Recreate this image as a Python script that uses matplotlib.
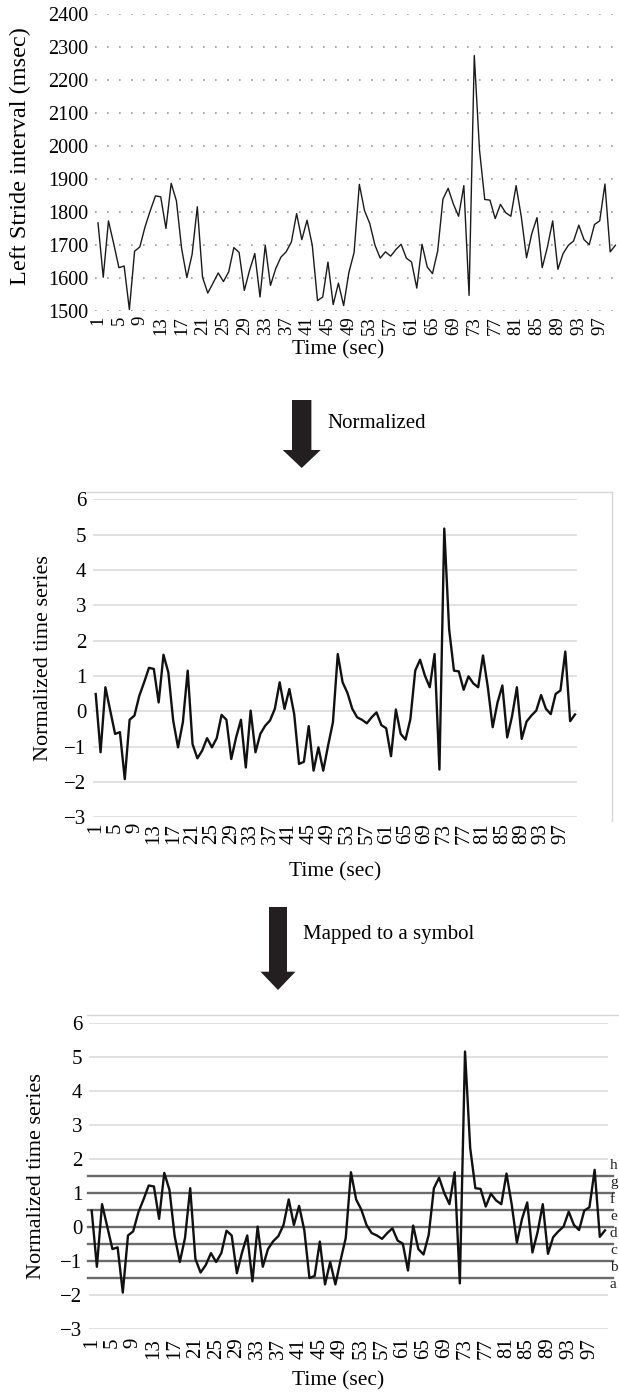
import numpy as np
import matplotlib
matplotlib.use('Agg')
import matplotlib.pyplot as plt
from matplotlib.patches import Polygon

plt.rcParams['font.family'] = ['Liberation Serif', 'DejaVu Serif']

# Left stride interval (msec), one value per second
time_sec = np.arange(1, 101)
stride_ms = [1766, 1601, 1772, 1703, 1630, 1635, 1503, 1680, 1693, 1754,
             1803, 1848, 1845, 1749, 1886, 1833, 1688, 1600, 1670, 1815,
             1601, 1553, 1583, 1614, 1588, 1617, 1691, 1676, 1561, 1622,
             1673, 1541, 1698, 1576, 1627, 1662, 1678, 1708, 1794, 1715,
             1774, 1698, 1530, 1541, 1647, 1518, 1583, 1515, 1615, 1676,
             1883, 1803, 1764, 1698, 1659, 1678, 1665, 1685, 1701, 1659,
             1647, 1568, 1701, 1632, 1612, 1681, 1838, 1871, 1823, 1786,
             1879, 1546, 2274, 1987, 1837, 1835, 1779, 1822, 1797, 1786,
             1879, 1784, 1660, 1733, 1782, 1630, 1693, 1772, 1625, 1673,
             1698, 1711, 1759, 1715, 1700, 1761, 1772, 1884, 1678, 1698]

# normalized series
norm_vals = [0.49, -1.16, 0.68, 0.02, -0.64, -0.59, -1.92, -0.24, -0.12, 0.44,
             0.82, 1.23, 1.20, 0.25, 1.60, 1.10, -0.26, -1.02, -0.31, 1.15,
             -0.93, -1.33, -1.11, -0.76, -1.02, -0.76, -0.10, -0.24, -1.35, -0.74,
             -0.24, -1.59, 0.02, -1.16, -0.64, -0.41, -0.26, 0.07, 0.82, 0.07,
             0.63, -0.08, -1.49, -1.43, -0.42, -1.68, -1.02, -1.68, -0.97, -0.31,
             1.62, 0.82, 0.52, 0.07, -0.17, -0.24, -0.34, -0.17, -0.03, -0.39,
             -0.48, -1.27, 0.05, -0.64, -0.80, -0.22, 1.15, 1.46, 1.01, 0.68,
             1.62, -1.65, 5.17, 2.33, 1.15, 1.13, 0.61, 0.99, 0.79, 0.68,
             1.58, 0.68, -0.45, 0.25, 0.73, -0.74, -0.14, 0.68, -0.78, -0.29,
             -0.12, 0.02, 0.46, 0.07, -0.08, 0.49, 0.59, 1.69, -0.28, -0.09]

# symbol breakpoints and letters
breakpoints = [-1.5, -1.0, -0.5, 0.0, 0.5, 1.0, 1.5]
symbols = ['a', 'b', 'c', 'd', 'e', 'f', 'g', 'h']

xticks = list(range(1, 101, 4))

W, H = 619, 1395
fig = plt.figure(figsize=(W / 100, H / 100), dpi=100)


def px_axes(left, top, right, bottom):
    return fig.add_axes([left / W, 1 - bottom / H, (right - left) / W, (bottom - top) / H])


def style_axes(ax, xsize, ysize, xpad):
    for s in ax.spines.values():
        s.set_visible(False)
    ax.tick_params(length=0)
    ax.set_xticks(xticks)
    ax.set_xticklabels([str(t) for t in xticks], rotation=90, va='top')
    ax.tick_params(axis='x', labelsize=xsize, pad=xpad)
    ax.tick_params(axis='y', labelsize=ysize, pad=5)
    ax.set_xlim(0.5, 100.5)
    ax.set_axisbelow(True)


# top panel: raw stride intervals
ax1 = px_axes(95.4, 14, 618, 310.5)
style_axes(ax1, 13.5, 14.5, 4)
ax1.set_ylim(1500, 2400)
ax1.set_yticks(range(1500, 2401, 100))
ax1.grid(axis='y', color='#9a9a9a', linewidth=1.2, linestyle=(0, (1, 6.2)))
ax1.plot(time_sec, stride_ms, color='#1a1a1a', linewidth=1.0)

# middle panel: normalized
ax2 = px_axes(93.3, 499.3, 577.4, 817.3)
style_axes(ax2, 15, 15, 4)
ax2.set_ylim(-3, 6)
ax2.set_yticks(range(-3, 7))
ax2.grid(axis='y', color='#dcdcdc', linewidth=1.2)
ax2.plot(time_sec, norm_vals, color='#111111', linewidth=1.7)

# bottom panel: normalized with symbol levels
ax3 = px_axes(89.1, 1023.3, 607.6, 1329.3)
style_axes(ax3, 15, 15, 6)
ax3.set_ylim(-3, 6)
ax3.set_yticks(range(-3, 7))
ax3.grid(axis='y', color='#dcdcdc', linewidth=1.2)
for b in breakpoints:
    ax3.axhline(b, xmin=-0.003, xmax=1.01, color='#6a6a6a', linewidth=1.7, clip_on=False)
ax3.plot(time_sec, norm_vals, color='#111111', linewidth=1.7)

levels = [breakpoints[0] - 0.25] + [(breakpoints[k] + breakpoints[k + 1]) / 2
                                    for k in range(len(breakpoints) - 1)] + [breakpoints[-1] + 0.25]
for sym, lv in zip(symbols, levels):
    ax3.annotate(sym, xy=(610 / W, lv + 0.08), xycoords=('figure fraction', 'data'),
                 ha='left', va='center', fontsize=11, color='#222222', annotation_clip=False)

# axis titles
fig.text(338 / W, 1 - 350 / H, 'Time (sec)', ha='center', va='center', fontsize=15.5)
fig.text(335 / W, 1 - 872 / H, 'Time (sec)', ha='center', va='center', fontsize=15.5)
fig.text(338 / W, 1 - 1381 / H, 'Time (sec)', ha='center', va='center', fontsize=15.5)
fig.text(20 / W, 1 - 156 / H, 'Left Stride interval (msec)', rotation=90,
         ha='center', va='center', fontsize=17.5)
fig.text(44 / W, 1 - 658 / H, 'Normalized time series', rotation=90,
         ha='center', va='center', fontsize=16)
fig.text(37 / W, 1 - 1176 / H, 'Normalized time series', rotation=90,
         ha='center', va='center', fontsize=16)

# chart frames (light grey borders)
fig.add_artist(plt.Line2D([87 / W, 611.7 / W], [1 - 491.7 / H, 1 - 491.7 / H],
                          color='#d6d6d6', linewidth=1.0))
fig.add_artist(plt.Line2D([611.7 / W, 611.7 / W], [1 - 491.7 / H, 1 - 821 / H],
                          color='#d6d6d6', linewidth=1.0))
fig.add_artist(plt.Line2D([87 / W, 619 / W], [1 - 1015 / H, 1 - 1015 / H],
                          color='#d6d6d6', linewidth=1.0))


# down arrows between panels
def down_arrow(cx, top, head, tip, shaft_hw, head_hw):
    pts = [(cx - shaft_hw, top), (cx + shaft_hw, top), (cx + shaft_hw, head),
           (cx + head_hw, head), (cx, tip), (cx - head_hw, head), (cx - shaft_hw, head)]
    pts = [(x / W, 1 - y / H) for x, y in pts]
    fig.add_artist(Polygon(pts, closed=True, transform=fig.transFigure,
                           facecolor='#231f20', edgecolor='none'))


down_arrow(301.7, 400, 450, 468, 9.7, 19)
fig.text(327 / W, 1 - 423 / H, 'Normalized', ha='left', va='center', fontsize=15)
down_arrow(278, 907, 971.7, 990, 9, 17.5)
fig.text(302.7 / W, 1 - 935 / H, 'Mapped to a symbol', ha='left', va='center', fontsize=15)

fig.savefig('out.png', dpi=100)
